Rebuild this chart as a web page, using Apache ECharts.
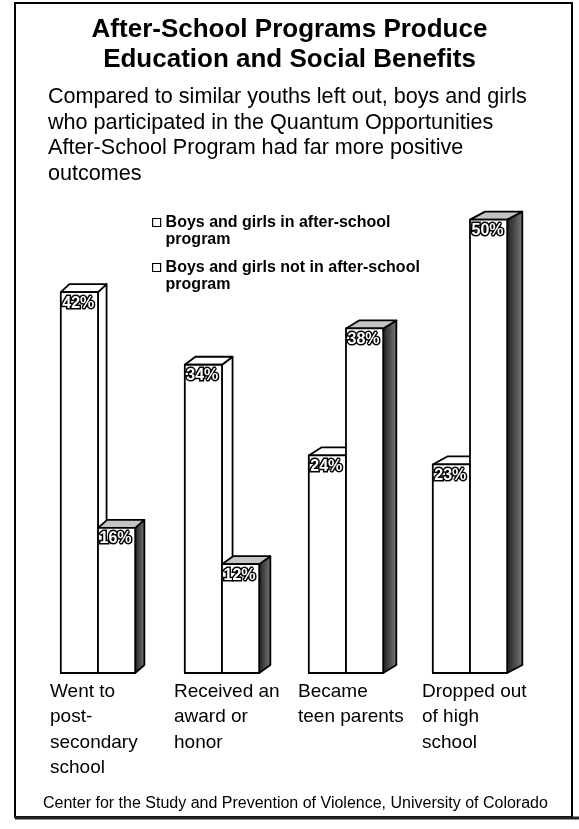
<!DOCTYPE html>
<html>
<head>
<meta charset="utf-8">
<script src="https://cdn.jsdelivr.net/npm/echarts@6/dist/echarts.min.js"></script>
<style>
  html, body { margin: 0; padding: 0; background: #fff; }
  #chart { width: 579px; height: 829px; }
</style>
</head>
<body>
<div id="chart"></div>
<script>
var categories = [
  'Went to\npost-\nsecondary\nschool',
  'Received an\naward or\nhonor',
  'Became\nteen parents',
  'Dropped out\nof high\nschool'
];
var seriesNames = [
  'Boys and girls in after-school\nprogram',
  'Boys and girls not in after-school\nprogram'
];
var inProgram = [42, 34, 24, 23];
var notInProgram = [16, 12, 38, 50];

var titleText = 'After-School Programs Produce\nEducation and Social Benefits';
var subText = 'Compared to similar youths left out, boys and girls\nwho participated in the Quantum Opportunities\nAfter-School Program had far more positive\noutcomes';
var footerText = 'Center for the Study and Prevention of Violence, University of Colorado';

var FONT = '"Liberation Sans", Arial, Helvetica, sans-serif';

function toPairs(arr) {
  return arr.map(function (v, i) { return [i, v]; });
}

// draws one pseudo-3D bar: front, top and side faces
function renderBar(params, api) {
  var c = api.coord([api.value(0), 0]);
  var t = api.coord([api.value(0), api.value(1)]);
  var w = api.size([1, 0])[0] * 0.3;
  var first = params.seriesIndex === 0;
  var x0 = first ? c[0] - w : c[0];
  var x1 = x0 + w;
  var yb = c[1], yt = t[1];
  var dx = 7 + 0.016 * x1, dy = 8;
  var sideFill = first ? '#fff' : {
    type: 'linear', x: 0, y: 0, x2: 1, y2: 0,
    colorStops: [{ offset: 0, color: '#1c1c1c' }, { offset: 1, color: '#7c7c7c' }]
  };
  var topFill = first ? '#fff' : '#c4c4c4';
  function st(fill) {
    return { fill: fill, stroke: '#000', lineWidth: 1.8, lineJoin: 'round' };
  }
  return {
    type: 'group',
    children: [
      { type: 'polygon', shape: { points: [[x1, yt], [x1 + dx, yt - dy], [x1 + dx, yb - dy], [x1, yb]] }, style: st(sideFill) },
      { type: 'polygon', shape: { points: [[x0, yt], [x1, yt], [x1 + dx, yt - dy], [x0 + dx, yt - dy]] }, style: st(topFill) },
      { type: 'rect', shape: { x: x0, y: yt, width: w, height: yb - yt }, style: st('#fff') },
      {
        type: 'text', x: x0 + 1.5, y: yt + 3,
        style: {
          text: api.value(1) + '%', fill: '#fff', stroke: '#000', lineWidth: 3, strokeFirst: true,
          font: 'bold 16px ' + FONT, align: 'left', verticalAlign: 'top'
        }
      }
    ]
  };
}

var chart = echarts.init(document.getElementById('chart'));
chart.setOption({
  animation: false,
  backgroundColor: '#fff',
  textStyle: { fontFamily: FONT, color: '#000' },
  title: [
    {
      text: titleText, left: 'center', top: 15, padding: 0,
      textStyle: { fontFamily: FONT, fontSize: 26, fontWeight: 'bold', lineHeight: 30, color: '#000' }
    },
    {
      text: subText, left: 48, top: 84, padding: 0,
      textStyle: { fontFamily: FONT, fontSize: 21.6, fontWeight: 'normal', lineHeight: 25.8, color: '#000' }
    },
    {
      text: footerText, left: 43, top: 795, padding: 0,
      textStyle: { fontFamily: FONT, fontSize: 16, fontWeight: 'normal', lineHeight: 18, color: '#000' }
    }
  ],
  legend: {
    orient: 'vertical', left: 152, top: 197, padding: 0,
    selectedMode: false, icon: 'rect',
    itemWidth: 8, itemHeight: 8, itemGap: -6,
    itemStyle: { color: '#fff', borderColor: '#000', borderWidth: 1.2 },
    // leading blank line keeps the first text line level with the icon
    formatter: function (name) { return '\n' + name; },
    textStyle: { fontFamily: FONT, fontSize: 16, fontWeight: 'bold', lineHeight: 17, color: '#000' },
    data: seriesNames
  },
  grid: { left: 36, right: 47, top: 129, bottom: 156 },
  xAxis: {
    type: 'category', data: categories,
    axisLine: { show: false }, axisTick: { show: false }, splitLine: { show: false },
    axisLabel: {
      interval: 0, align: 'left', margin: 6, padding: [0, 0, 0, -48],
      fontFamily: FONT, fontSize: 19, lineHeight: 25.5, color: '#000'
    }
  },
  yAxis: { type: 'value', min: 0, max: 60, show: false, splitLine: { show: false } },
  graphic: [
    { type: 'rect', shape: { x: 15, y: 3, width: 557, height: 814 }, style: { fill: 'none', stroke: '#000', lineWidth: 2 }, silent: true },
    { type: 'line', shape: { x1: 15, y1: 818, x2: 579, y2: 818 }, style: { stroke: '#222', lineWidth: 3 }, silent: true }
  ],
  series: [
    { name: seriesNames[0], type: 'custom', renderItem: renderBar, data: toPairs(inProgram), encode: { x: 0, y: 1 }, z: 2 },
    { name: seriesNames[1], type: 'custom', renderItem: renderBar, data: toPairs(notInProgram), encode: { x: 0, y: 1 }, z: 3 }
  ]
});
</script>
</body>
</html>
